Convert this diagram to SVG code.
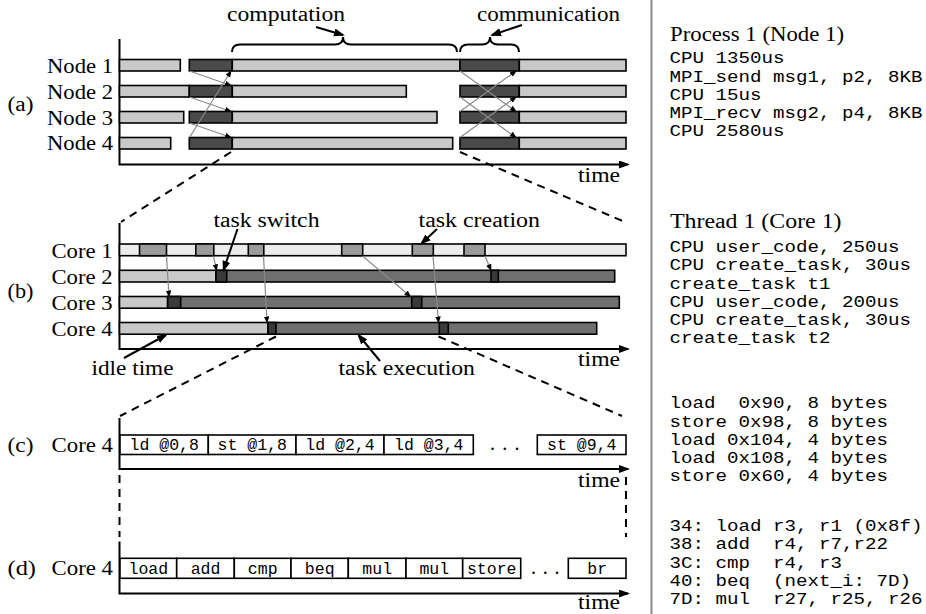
<svg xmlns="http://www.w3.org/2000/svg" width="926" height="614" viewBox="0 0 926 614">
  <defs>
    <style>
      .lbl { font-family: "Liberation Serif", "Times New Roman", serif; font-size: 20px; fill: #000; }
      .mono { font-family: "Liberation Mono", "Courier New", monospace; font-size: 16px; fill: #000; }
      .box { font-family: "Liberation Mono", "Courier New", monospace; font-size: 16.5px; fill: #000; text-anchor: middle; }
      .bar { stroke: #000; stroke-width: 1.6; }
      .lt { fill: #c9c9c9; }
      .dk { fill: #4a4a4a; }
      .c1 { fill: #ececec; }
      .md { fill: #9b9b9b; }
      .ex { fill: #6f6f6f; }
      .sw { fill: #3a3a3a; }
      .cell { fill: #fff; stroke: #000; stroke-width: 1.6; }
      .axis { fill: none; stroke: #000; stroke-width: 2; }
      .msg { fill: none; stroke: #8a8a8a; stroke-width: 1.2; marker-end: url(#tip); }
      .call { fill: none; stroke: #000; stroke-width: 2; marker-end: url(#head); }
      .dash { fill: none; stroke: #000; stroke-width: 2; stroke-dasharray: 8 6; }
      .brace { fill: none; stroke: #000; stroke-width: 2; }
    </style>
    <marker id="tip" markerUnits="userSpaceOnUse" markerWidth="7" markerHeight="6" refX="6" refY="2.75" orient="auto">
      <path d="M0,0 L7,2.75 L0,5.5 z" fill="#000"/>
    </marker>
    <marker id="head" markerUnits="userSpaceOnUse" markerWidth="11" markerHeight="9" refX="9" refY="4" orient="auto">
      <path d="M0,0 L11,4 L0,8 z" fill="#000"/>
    </marker>
    <marker id="axhead" markerUnits="userSpaceOnUse" markerWidth="11" markerHeight="9" refX="9" refY="4" orient="auto">
      <path d="M0,0 L11,4 L0,8 z" fill="#000"/>
    </marker>
  </defs>
  <rect width="926" height="614" fill="#fff"/>

  <!-- (a) process level -->
  <g id="panel-a">
    <text class="lbl" x="7.5" y="110.5" textLength="26" lengthAdjust="spacingAndGlyphs">(a)</text>
    <text class="lbl" x="227" y="21" textLength="118" lengthAdjust="spacingAndGlyphs">computation</text>
    <text class="lbl" x="477" y="21" textLength="143" lengthAdjust="spacingAndGlyphs">communication</text>
    <path class="brace" d="M232,52 Q232,44.5 240,44.5 L335,44.5 Q343,44.5 343,37 Q343,44.5 351,44.5 L449,44.5 Q457,44.5 457,52"/>
    <path class="brace" d="M460,52 Q460,44.5 468,44.5 L482,44.5 Q490,44.5 490,37 Q490,44.5 498,44.5 L511,44.5 Q519,44.5 519,52"/>
    <path class="axis" d="M119.5,39 V164.5 H628" marker-end="url(#axhead)"/>
    <text class="lbl" x="578" y="182" textLength="42" lengthAdjust="spacingAndGlyphs">time</text>
  </g>
  <g id="node1">
    <text class="lbl" x="47" y="72.5" textLength="66" lengthAdjust="spacingAndGlyphs">Node 1</text>
    <rect class="bar lt" x="119.5" y="59.5" width="60.8" height="11.5"/>
    <rect class="bar dk" x="189.3" y="59.5" width="43" height="11.5"/>
    <rect class="bar lt" x="232.3" y="59.5" width="227.7" height="11.5"/>
    <rect class="bar dk" x="460" y="59.5" width="59.3" height="11.5"/>
    <rect class="bar lt" x="519.3" y="59.5" width="106.7" height="11.5"/>
  </g>
  <g id="node2">
    <text class="lbl" x="47" y="98.5" textLength="66" lengthAdjust="spacingAndGlyphs">Node 2</text>
    <rect class="bar lt" x="119.5" y="85.5" width="69.8" height="11.5"/>
    <rect class="bar dk" x="189.3" y="85.5" width="43" height="11.5"/>
    <rect class="bar lt" x="232.3" y="85.5" width="174" height="11.5"/>
    <rect class="bar dk" x="460" y="85.5" width="59.3" height="11.5"/>
    <rect class="bar lt" x="519.3" y="85.5" width="106.7" height="11.5"/>
  </g>
  <g id="node3">
    <text class="lbl" x="47" y="124.5" textLength="66" lengthAdjust="spacingAndGlyphs">Node 3</text>
    <rect class="bar lt" x="119.5" y="111.5" width="64.2" height="11.5"/>
    <rect class="bar dk" x="189.3" y="111.5" width="43" height="11.5"/>
    <rect class="bar lt" x="232.3" y="111.5" width="204.7" height="11.5"/>
    <rect class="bar dk" x="460" y="111.5" width="59.3" height="11.5"/>
    <rect class="bar lt" x="519.3" y="111.5" width="106.7" height="11.5"/>
  </g>
  <g id="node4">
    <text class="lbl" x="47" y="150.3" textLength="66" lengthAdjust="spacingAndGlyphs">Node 4</text>
    <rect class="bar lt" x="119.5" y="137.5" width="51.2" height="11.5"/>
    <rect class="bar dk" x="189.3" y="137.5" width="43" height="11.5"/>
    <rect class="bar lt" x="232.3" y="137.5" width="220.4" height="11.5"/>
    <rect class="bar dk" x="460" y="137.5" width="59.3" height="11.5"/>
    <rect class="bar lt" x="519.3" y="137.5" width="106.7" height="11.5"/>
  </g>

  <!-- (b) thread level -->
  <g id="panel-b">
    <text class="lbl" x="7.5" y="298" textLength="26" lengthAdjust="spacingAndGlyphs">(b)</text>
    <path class="axis" d="M119.5,223 V349 H628" marker-end="url(#axhead)"/>
    <text class="lbl" x="578" y="366" textLength="42" lengthAdjust="spacingAndGlyphs">time</text>
    <text class="lbl" x="213.5" y="226.5" textLength="106" lengthAdjust="spacingAndGlyphs">task switch</text>
    <text class="lbl" x="418.5" y="226.5" textLength="121.5" lengthAdjust="spacingAndGlyphs">task creation</text>
    <text class="lbl" x="91.5" y="375" textLength="82" lengthAdjust="spacingAndGlyphs">idle time</text>
    <text class="lbl" x="338.5" y="375" textLength="136.5" lengthAdjust="spacingAndGlyphs">task execution</text>
  </g>
  <g id="core1">
    <text class="lbl" x="51.5" y="257.5" textLength="61" lengthAdjust="spacingAndGlyphs">Core 1</text>
    <rect class="bar c1" x="119.5" y="244" width="506.5" height="11.7"/>
    <rect class="bar md" x="139.5" y="244" width="27" height="11.7"/>
    <rect class="bar md" x="195.8" y="244" width="18" height="11.7"/>
    <rect class="bar md" x="248.3" y="244" width="15.5" height="11.7"/>
    <rect class="bar md" x="341.7" y="244" width="21" height="11.7"/>
    <rect class="bar md" x="412.3" y="244" width="21" height="11.7"/>
    <rect class="bar md" x="464" y="244" width="21" height="11.7"/>
  </g>
  <g id="core2">
    <text class="lbl" x="51.5" y="283.5" textLength="61" lengthAdjust="spacingAndGlyphs">Core 2</text>
    <rect class="bar lt" x="119.5" y="270.3" width="96.5" height="11.7"/>
    <rect class="bar ex" x="216" y="270.3" width="398.7" height="11.7"/>
    <rect class="bar sw" x="216" y="270.3" width="10.7" height="11.7"/>
    <rect class="bar sw" x="491" y="270.3" width="7.3" height="11.7"/>
  </g>
  <g id="core3">
    <text class="lbl" x="51.5" y="309.5" textLength="61" lengthAdjust="spacingAndGlyphs">Core 3</text>
    <rect class="bar lt" x="119.5" y="296.5" width="48.2" height="11.7"/>
    <rect class="bar ex" x="167.7" y="296.5" width="451.6" height="11.7"/>
    <rect class="bar sw" x="167.7" y="296.5" width="13" height="11.7"/>
    <rect class="bar sw" x="411.7" y="296.5" width="10" height="11.7"/>
  </g>
  <g id="core4">
    <text class="lbl" x="51.5" y="335.5" textLength="61" lengthAdjust="spacingAndGlyphs">Core 4</text>
    <rect class="bar lt" x="119.5" y="322.5" width="148.5" height="11.7"/>
    <rect class="bar ex" x="268" y="322.5" width="328.7" height="11.7"/>
    <rect class="bar sw" x="268" y="322.5" width="8" height="11.7"/>
    <rect class="bar sw" x="439.3" y="322.5" width="9" height="11.7"/>
  </g>

  <!-- (c) memory accesses -->
  <g id="panel-c">
    <text class="lbl" x="7.5" y="451.5" textLength="26" lengthAdjust="spacingAndGlyphs">(c)</text>
    <text class="lbl" x="51.5" y="451.5" textLength="61.5" lengthAdjust="spacingAndGlyphs">Core 4</text>
    <path class="axis" d="M119.5,418 V469 H628" marker-end="url(#axhead)"/>
    <text class="lbl" x="578" y="487" textLength="42" lengthAdjust="spacingAndGlyphs">time</text>
    <rect class="cell" x="120" y="435" width="88.3" height="19.5"/>
    <rect class="cell" x="208.3" y="435" width="87.7" height="19.5"/>
    <rect class="cell" x="296" y="435" width="88" height="19.5"/>
    <rect class="cell" x="384" y="435" width="89.3" height="19.5"/>
    <rect class="cell" x="537.3" y="435" width="88.7" height="19.5"/>
    <text class="box" x="164.2" y="450">ld @0,8</text>
    <text class="box" x="252.2" y="450">st @1,8</text>
    <text class="box" x="340" y="450">ld @2,4</text>
    <text class="box" x="428.7" y="450">ld @3,4</text>
    <text class="lbl" x="490" y="450" letter-spacing="7.3">...</text>
    <text class="box" x="581.7" y="450">st @9,4</text>
  </g>

  <!-- (d) instructions -->
  <g id="panel-d">
    <text class="lbl" x="7.5" y="575" textLength="28.5" lengthAdjust="spacingAndGlyphs">(d)</text>
    <text class="lbl" x="51.5" y="575" textLength="61.5" lengthAdjust="spacingAndGlyphs">Core 4</text>
    <path class="axis" d="M119.5,541.5 V593.5 H628" marker-end="url(#axhead)"/>
    <text class="lbl" x="578" y="608.5" textLength="42" lengthAdjust="spacingAndGlyphs">time</text>
    <rect class="cell" x="120" y="558.3" width="56.7" height="20"/>
    <rect class="cell" x="176.7" y="558.3" width="57.6" height="20"/>
    <rect class="cell" x="234.3" y="558.3" width="56.7" height="20"/>
    <rect class="cell" x="291" y="558.3" width="57.3" height="20"/>
    <rect class="cell" x="348.3" y="558.3" width="57.7" height="20"/>
    <rect class="cell" x="406" y="558.3" width="56.7" height="20"/>
    <rect class="cell" x="462.7" y="558.3" width="58" height="20"/>
    <rect class="cell" x="568.3" y="558.3" width="57.7" height="20"/>
    <text class="box" x="148.3" y="573.5">load</text>
    <text class="box" x="205.5" y="573.5">add</text>
    <text class="box" x="262.7" y="573.5">cmp</text>
    <text class="box" x="319.7" y="573.5">beq</text>
    <text class="box" x="377.2" y="573.5">mul</text>
    <text class="box" x="434.3" y="573.5">mul</text>
    <text class="box" x="491.7" y="573.5">store</text>
    <text class="lbl" x="531" y="573.5" letter-spacing="6.7">...</text>
    <text class="box" x="597.2" y="573.5">br</text>
  </g>

  <!-- trace listings -->
  <g id="trace">
    <line x1="651.5" y1="0" x2="651.5" y2="614" stroke="#8a8a8a" stroke-width="2"/>
    <text class="lbl" x="670" y="41" textLength="174" lengthAdjust="spacingAndGlyphs">Process 1 (Node 1)</text>
    <text class="mono" x="669.5" y="63.3" textLength="115" lengthAdjust="spacingAndGlyphs">CPU 1350us</text>
    <text class="mono" x="669.5" y="81.6" textLength="253" lengthAdjust="spacingAndGlyphs">MPI_send msg1, p2, 8KB</text>
    <text class="mono" x="669.5" y="99.8" textLength="92" lengthAdjust="spacingAndGlyphs">CPU 15us</text>
    <text class="mono" x="669.5" y="118.1" textLength="253" lengthAdjust="spacingAndGlyphs">MPI_recv msg2, p4, 8KB</text>
    <text class="mono" x="669.5" y="136.3" textLength="115" lengthAdjust="spacingAndGlyphs">CPU 2580us</text>

    <text class="lbl" x="670" y="228" textLength="171.5" lengthAdjust="spacingAndGlyphs">Thread 1 (Core 1)</text>
    <text class="mono" x="669.5" y="252" textLength="230" lengthAdjust="spacingAndGlyphs">CPU user_code, 250us</text>
    <text class="mono" x="669.5" y="270.3" textLength="241.5" lengthAdjust="spacingAndGlyphs">CPU create_task, 30us</text>
    <text class="mono" x="669.5" y="288.5" textLength="161" lengthAdjust="spacingAndGlyphs">create_task t1</text>
    <text class="mono" x="669.5" y="306.8" textLength="230" lengthAdjust="spacingAndGlyphs">CPU user_code, 200us</text>
    <text class="mono" x="669.5" y="325" textLength="241.5" lengthAdjust="spacingAndGlyphs">CPU create_task, 30us</text>
    <text class="mono" x="669.5" y="343.3" textLength="161" lengthAdjust="spacingAndGlyphs">create_task t2</text>

    <text class="mono" x="669.5" y="408.3" textLength="218.5" lengthAdjust="spacingAndGlyphs" xml:space="preserve">load  0x90, 8 bytes</text>
    <text class="mono" x="669.5" y="426.5" textLength="218.5" lengthAdjust="spacingAndGlyphs">store 0x98, 8 bytes</text>
    <text class="mono" x="669.5" y="444.8" textLength="218.5" lengthAdjust="spacingAndGlyphs">load 0x104, 4 bytes</text>
    <text class="mono" x="669.5" y="463" textLength="218.5" lengthAdjust="spacingAndGlyphs">load 0x108, 4 bytes</text>
    <text class="mono" x="669.5" y="481.3" textLength="218.5" lengthAdjust="spacingAndGlyphs">store 0x60, 4 bytes</text>

    <text class="mono" x="669.5" y="531" textLength="253" lengthAdjust="spacingAndGlyphs">34: load r3, r1 (0x8f)</text>
    <text class="mono" x="669.5" y="549.3" textLength="218.5" lengthAdjust="spacingAndGlyphs" xml:space="preserve">38: add  r4, r7,r22</text>
    <text class="mono" x="669.5" y="567.5" textLength="172.5" lengthAdjust="spacingAndGlyphs" xml:space="preserve">3C: cmp  r4, r3</text>
    <text class="mono" x="669.5" y="585.8" textLength="241.5" lengthAdjust="spacingAndGlyphs" xml:space="preserve">40: beq  (next_i: 7D)</text>
    <text class="mono" x="669.5" y="604" textLength="253" lengthAdjust="spacingAndGlyphs" xml:space="preserve">7D: mul  r27, r25, r26</text>
  </g>

  <!-- connectors -->
  <g id="connectors">
    <!-- messages between nodes -->
    <line class="msg" x1="189.5" y1="71" x2="231" y2="85.5"/>
    <line class="msg" x1="189.5" y1="97" x2="231" y2="111.5"/>
    <line class="msg" x1="189.5" y1="123" x2="231" y2="137.5"/>
    <line class="msg" x1="189.5" y1="137.5" x2="231" y2="71"/>
    <line class="msg" x1="460" y1="71" x2="516" y2="111.5"/>
    <line class="msg" x1="460" y1="97" x2="516" y2="137.5"/>
    <line class="msg" x1="460" y1="111.5" x2="516" y2="71"/>
    <line class="msg" x1="460" y1="137.5" x2="516" y2="97"/>
    <!-- task spawns -->
    <line class="msg" x1="166.5" y1="256" x2="169" y2="296.5"/>
    <line class="msg" x1="213.5" y1="256" x2="216.5" y2="270.3"/>
    <line class="msg" x1="263.5" y1="256" x2="267" y2="322.5"/>
    <line class="msg" x1="362.5" y1="256" x2="410.5" y2="296.5"/>
    <line class="msg" x1="433" y1="256" x2="438.5" y2="322.5"/>
    <line class="msg" x1="485" y1="256" x2="491" y2="270.3"/>
    <!-- callouts -->
    <line class="call" x1="316" y1="27" x2="343" y2="35"/>
    <line class="call" x1="522" y1="25" x2="492" y2="35"/>
    <line class="call" x1="237.5" y1="229" x2="223.5" y2="270"/>
    <line class="call" x1="437" y1="229" x2="421.5" y2="243.5"/>
    <line class="call" x1="124" y1="358" x2="166" y2="335"/>
    <line class="call" x1="380" y1="361" x2="358.5" y2="335"/>
    <!-- zoom guides -->
    <line class="dash" x1="231" y1="152" x2="121" y2="222"/>
    <line class="dash" x1="460" y1="152" x2="625" y2="222"/>
    <line class="dash" x1="276" y1="336.5" x2="120" y2="416"/>
    <line class="dash" x1="438.5" y1="336.5" x2="622" y2="416"/>
    <line class="dash" x1="119.5" y1="475" x2="119.5" y2="537"/>
    <line class="dash" x1="626" y1="477" x2="626" y2="537"/>
  </g>
</svg>
